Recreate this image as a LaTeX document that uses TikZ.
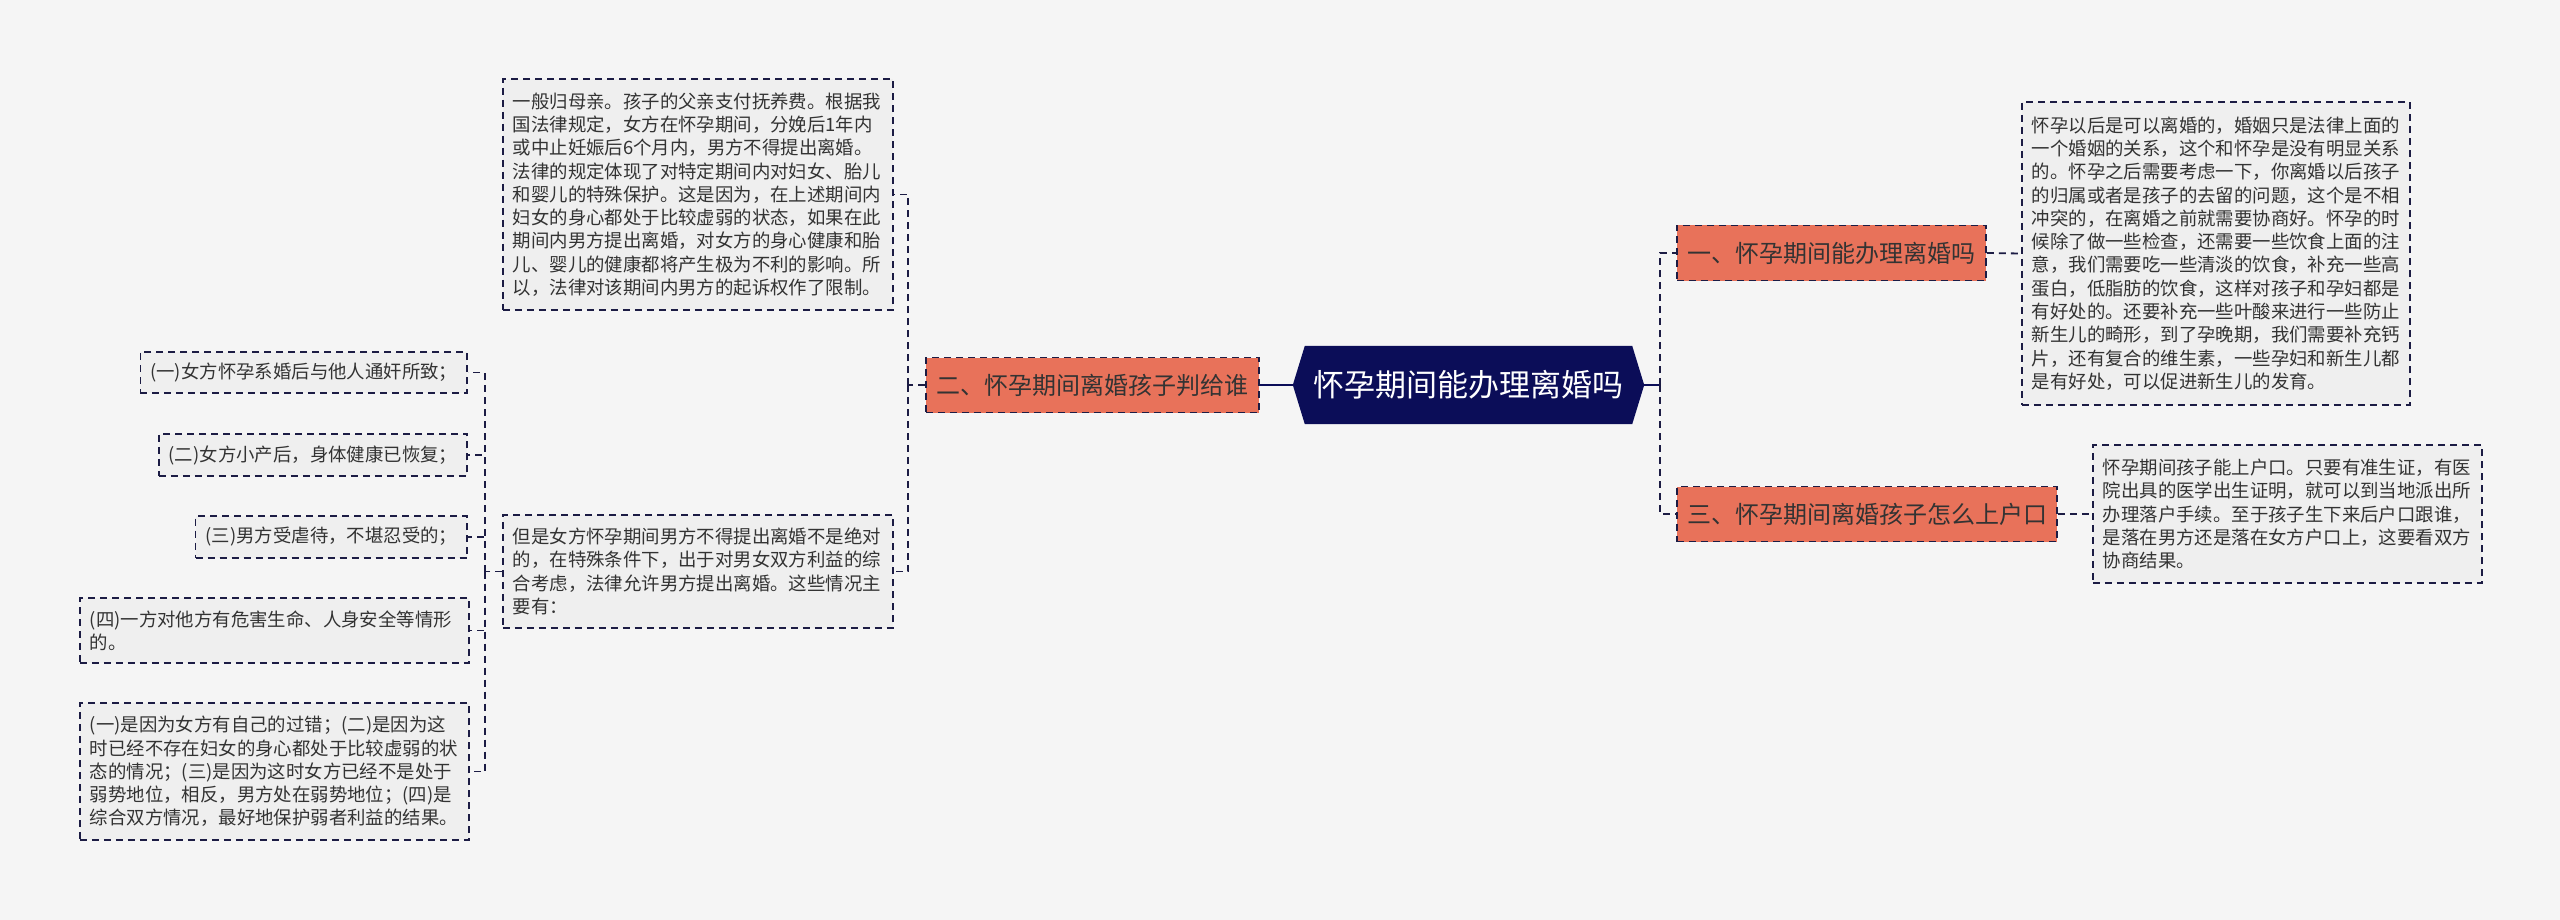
\documentclass[tikz,border=0pt]{standalone}
\usepackage{fontspec}
\newfontfamily\cjk{Noto Sans CJK SC}
\usetikzlibrary{backgrounds}
\definecolor{bgc}{HTML}{F5F5F5}
\definecolor{navy}{HTML}{0B0D58}
\definecolor{linec}{HTML}{1C1C44}
\definecolor{orangec}{HTML}{E8725A}
\definecolor{leafc}{HTML}{EFEFEF}
\definecolor{txt}{HTML}{333333}
\begin{document}
\begin{tikzpicture}[x=1pt,y=-1pt,
  leaf/.style={draw=linec, line width=1.6pt, dash pattern=on 7pt off 5pt, fill=leafc, text=txt,
    font=\cjk\fontsize{18.4}{23.3}\selectfont, align=left, inner xsep=10pt, inner ysep=0pt},
  branch/.style={draw=linec, line width=1.6pt, dash pattern=on 7pt off 5pt, fill=orangec, text=txt,
    font=\cjk\fontsize{24}{28}\selectfont, inner xsep=0pt, inner ysep=0pt, minimum height=55pt},
  dconn/.style={draw=linec, line width=1.8pt, dash pattern=on 7pt off 5pt},
  sconn/.style={draw=navy, line width=2.6pt},
]
\useasboundingbox (0,0) rectangle (2560,920);
\begin{scope}[on background layer]
\fill[bgc] (0,0) rectangle (2560,920);
\end{scope}

% root
\node[minimum width=351pt, minimum height=78pt, inner sep=0pt, text=white,
  font=\cjk\fontsize{31}{36}\selectfont] (root) at (1468.5,385) {怀孕期间能办理离婚吗};
\begin{scope}[on background layer]
\fill[navy] (root.west) -- ([xshift=12pt]root.north west) -- ([xshift=-12pt]root.north east)
  -- (root.east) -- ([xshift=-12pt]root.south east) -- ([xshift=12pt]root.south west) -- cycle;
\end{scope}

% branches
\node[branch, minimum width=333pt] (b2) at (1092.5,385) {二、怀孕期间离婚孩子判给谁};
\node[branch, minimum width=309pt] (b1) at (1831.5,253) {一、怀孕期间能办理离婚吗};
\node[branch, minimum width=380pt] (b3) at (1867,514) {三、怀孕期间离婚孩子怎么上户口};

% right leaves
\node[leaf, anchor=west, text width=368pt, minimum height=303pt] (r1) at (2021,253.5) {%
怀孕以后是可以离婚的，婚姻只是法律上面的\\
一个婚姻的关系，这个和怀孕是没有明显关系\\
的。怀孕之后需要考虑一下，你离婚以后孩子\\
的归属或者是孩子的去留的问题，这个是不相\\
冲突的，在离婚之前就需要协商好。怀孕的时\\
候除了做一些检查，还需要一些饮食上面的注\\
意，我们需要吃一些清淡的饮食，补充一些高\\
蛋白，低脂肪的饮食，这样对孩子和孕妇都是\\
有好处的。还要补充一些叶酸来进行一些防止\\
新生儿的畸形，到了孕晚期，我们需要补充钙\\
片，还有复合的维生素，一些孕妇和新生儿都\\
是有好处，可以促进新生儿的发育。};
\node[leaf, anchor=west, text width=369pt, minimum height=138pt] (r3) at (2092,514) {%
怀孕期间孩子能上户口。只要有准生证，有医\\
院出具的医学出生证明，就可以到当地派出所\\
办理落户手续。至于孩子生下来后户口跟谁，\\
是落在男方还是落在女方户口上，这要看双方\\
协商结果。};

% left leaves
\node[leaf, anchor=west, text width=370pt, minimum height=231pt] (la) at (502,194.5) {%
一般归母亲。孩子的父亲支付抚养费。根据我\\
国法律规定，女方在怀孕期间，分娩后1年内\\
或中止妊娠后6个月内，男方不得提出离婚。\\
法律的规定体现了对特定期间内对妇女、胎儿\\
和婴儿的特殊保护。这是因为，在上述期间内\\
妇女的身心都处于比较虚弱的状态，如果在此\\
期间内男方提出离婚，对女方的身心健康和胎\\
儿、婴儿的健康都将产生极为不利的影响。所\\
以，法律对该期间内男方的起诉权作了限制。};
\node[leaf, anchor=west, text width=370pt, minimum height=113pt] (lb) at (502,571.5) {%
但是女方怀孕期间男方不得提出离婚不是绝对\\
的，在特殊条件下，出于对男女双方利益的综\\
合考虑，法律允许男方提出离婚。这些情况主\\
要有：};

% sub leaves
\node[leaf, anchor=east, minimum height=41pt] (c1) at (468,372.5) {(一)女方怀孕系婚后与他人通奸所致；};
\node[leaf, anchor=east, minimum height=42pt] (c2) at (468,455) {(二)女方小产后，身体健康已恢复；};
\node[leaf, anchor=east, minimum height=42pt] (c3) at (468,537) {(三)男方受虐待，不堪忍受的；};
\node[leaf, anchor=west, text width=369pt, minimum height=65pt] (c4) at (79,630.5) {%
(四)一方对他方有危害生命、人身安全等情形\\
的。};
\node[leaf, anchor=west, text width=369pt, minimum height=137pt] (c5) at (79,771.5) {%
(一)是因为女方有自己的过错；(二)是因为这\\
时已经不存在妇女的身心都处于比较虚弱的状\\
态的情况；(三)是因为这时女方已经不是处于\\
弱势地位，相反，男方处在弱势地位；(四)是\\
综合双方情况，最好地保护弱者利益的结果。};

% junctions
\coordinate (jL) at (908,385);
\coordinate (jC) at (485,571.5);
\coordinate (jR) at (1660,385);

% connectors
\draw[sconn] (root.west) -- (b2.east);
\draw[sconn] (root.east) -- (jR);
\draw[dconn] (b2.west) -- (jL);
\draw[dconn] (jL) |- (la.east);
\draw[dconn] (jL) |- (lb.east);
\draw[dconn] (lb.west) -- (jC);
\draw[dconn] (jC) |- (c1.east);
\draw[dconn] (jC) |- (c2.east);
\draw[dconn] (jC) |- (c3.east);
\draw[dconn] (jC) |- (c4.east);
\draw[dconn] (jC) |- (c5.east);
\draw[dconn] (jR) |- (b1.west);
\draw[dconn] (jR) |- (b3.west);
\draw[dconn] (b1.east) -- (r1.west);
\draw[dconn] (b3.east) -- (r3.west);
\end{tikzpicture}
\end{document}
